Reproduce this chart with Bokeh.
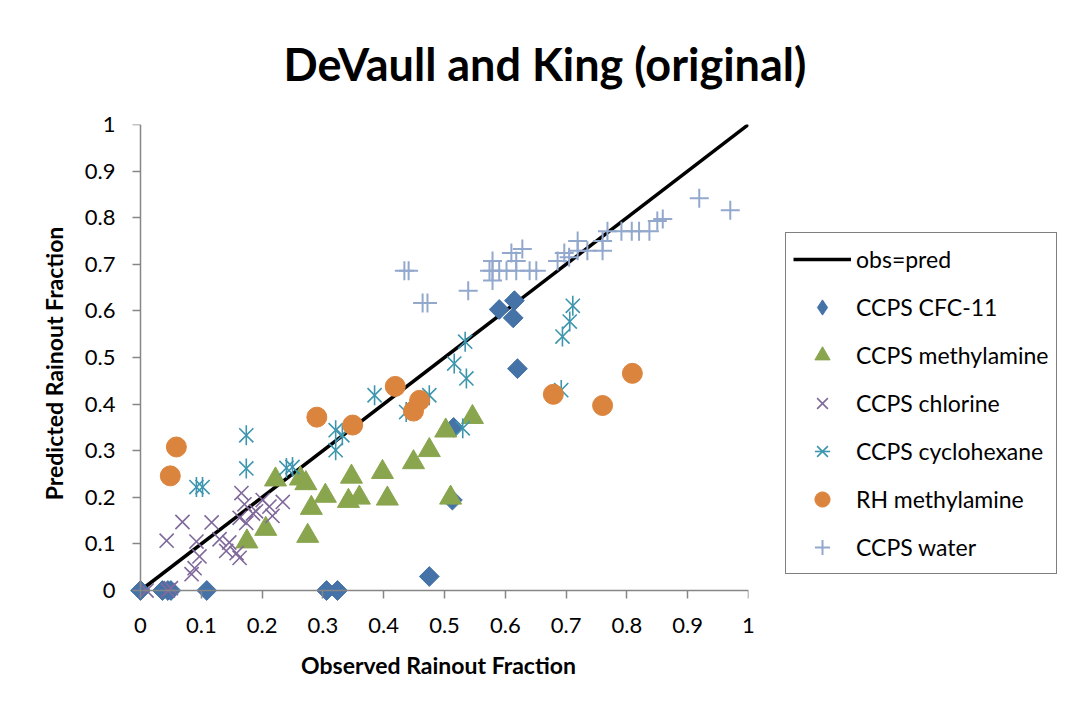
import numpy as np
from bokeh.plotting import figure
from bokeh.models import Range1d, Legend, LegendItem, FixedTicker, LinearAxis
from bokeh.embed import file_html
from bokeh.resources import INLINE

# ---------------- data ----------------
title_text = "DeVaull and King (original)"
x_label = "Observed Rainout Fraction"
y_label = "Predicted Rainout Fraction"

tick_vals = [0, 0.1, 0.2, 0.3, 0.4, 0.5, 0.6, 0.7, 0.8, 0.9, 1]
tick_labels = ["0", "0.1", "0.2", "0.3", "0.4", "0.5", "0.6", "0.7", "0.8", "0.9", "1"]

diag_x = [0, 1]
diag_y = [0, 1]

cfc_x = [0.0, 0.036, 0.045, 0.05, 0.109, 0.306, 0.324, 0.475, 0.513, 0.515, 0.59, 0.613, 0.615, 0.62]
cfc_y = [0.0, 0.0, 0.0, 0.0, 0.0, 0.0, 0.0, 0.03, 0.194, 0.35, 0.603, 0.585, 0.622, 0.476]

mea_x = [0.175, 0.206, 0.222, 0.263, 0.272, 0.275, 0.281, 0.304, 0.342, 0.347, 0.36, 0.398, 0.406, 0.449, 0.475, 0.502, 0.51, 0.546]
mea_y = [0.105, 0.132, 0.238, 0.24, 0.23, 0.117, 0.177, 0.203, 0.192, 0.244, 0.199, 0.254, 0.197, 0.275, 0.301, 0.343, 0.199, 0.372]

cl_x = [0.01, 0.045, 0.05, 0.043, 0.069, 0.117, 0.092, 0.097, 0.084, 0.089, 0.166, 0.171, 0.163, 0.174, 0.201,
        0.212, 0.234, 0.217, 0.146, 0.141, 0.163, 0.158, 0.13, 0.185, 0.19]
cl_y = [0.0, 0.0, 0.005, 0.107, 0.147, 0.146, 0.105, 0.073, 0.035, 0.048, 0.209, 0.185, 0.156, 0.145, 0.194,
        0.18, 0.19, 0.16, 0.103, 0.085, 0.07, 0.08, 0.11, 0.165, 0.17]

cyc_x = [0.092, 0.102, 0.174, 0.174, 0.24, 0.25, 0.321, 0.332, 0.321, 0.385, 0.437, 0.475, 0.53, 0.516, 0.536,
         0.534, 0.692, 0.694, 0.706, 0.711]
cyc_y = [0.222, 0.222, 0.333, 0.262, 0.263, 0.265, 0.344, 0.333, 0.301, 0.419, 0.383, 0.419, 0.348, 0.487, 0.455,
         0.534, 0.43, 0.545, 0.577, 0.611]

rh_x = [0.049, 0.059, 0.29, 0.349, 0.419, 0.449, 0.459, 0.679, 0.76, 0.809]
rh_y = [0.246, 0.308, 0.372, 0.355, 0.438, 0.385, 0.408, 0.421, 0.397, 0.466]

w_x = [0.434, 0.441, 0.464, 0.472, 0.539, 0.574, 0.579, 0.579, 0.579, 0.59, 0.602, 0.61, 0.618, 0.618, 0.628,
       0.64, 0.651, 0.686, 0.697, 0.705, 0.719, 0.719, 0.735, 0.76, 0.76, 0.768, 0.791, 0.808, 0.82, 0.837,
       0.85, 0.859, 0.919, 0.97]
w_y = [0.686, 0.686, 0.617, 0.617, 0.643, 0.686, 0.707, 0.665, 0.686, 0.686, 0.686, 0.724, 0.707, 0.686, 0.733,
       0.686, 0.686, 0.707, 0.724, 0.715, 0.75, 0.729, 0.729, 0.729, 0.75, 0.771, 0.771, 0.771, 0.771, 0.771,
       0.793, 0.797, 0.842, 0.816]

series_names = ["obs=pred", "CCPS CFC-11", "CCPS methylamine", "CCPS chlorine",
                "CCPS cyclohexane", "RH methylamine", "CCPS water"]

# ---------------- figure ----------------
FONT = "Lato"
AX = "#868686"
C_CFC, C_MEA, C_CL, C_CYC, C_RH, C_W = "#4572A7", "#89A54E", "#80699B", "#3D96AE", "#DB843D", "#92A8CD"

p = figure(frame_width=620, frame_height=478,
           min_border_left=128, min_border_right=311, min_border_top=122, min_border_bottom=93,
           x_range=Range1d(-12 / 608, 1.0), y_range=Range1d(-12 / 466, 1.0),
           output_backend="svg", toolbar_location=None)
p.outline_line_color = None
p.grid.visible = False

p.title.text = title_text
p.title.text_font = FONT
p.title.text_font_size = "45px"
p.title.text_font_style = "bold"
p.title.text_color = "black"
p.title.align = "left"
p.title.offset = 155
p.title.standoff = 68

# label-only axes at the frame edges
for ax in (p.xaxis[0], p.yaxis[0]):
    ax.ticker = FixedTicker(ticks=tick_vals)
    ax.major_label_overrides = dict(zip(tick_vals, tick_labels))
    ax.axis_line_color = None
    ax.major_tick_line_color = None
    ax.major_tick_in = 0
    ax.major_tick_out = 0
    ax.minor_tick_line_color = None
    ax.major_label_text_font = FONT
    ax.major_label_text_font_size = "22px"
    ax.major_label_text_color = "black"
    ax.axis_label_text_font = FONT
    ax.axis_label_text_font_size = "23px"
    ax.axis_label_text_font_style = "bold"
    ax.axis_label_text_color = "black"

p.xaxis.axis_label = x_label
p.yaxis.axis_label = y_label
p.xaxis.major_label_standoff = 15
p.yaxis.major_label_standoff = 13
p.xaxis.axis_label_standoff = 15
p.yaxis.axis_label_standoff = 14

# line-and-tick axes through the origin
for side in ("below", "left"):
    a = LinearAxis(fixed_location=0, bounds=(0, 1), ticker=FixedTicker(ticks=tick_vals),
                   axis_line_color=AX, axis_line_width=1.5,
                   major_tick_line_color=AX, major_tick_line_width=1.5,
                   major_tick_in=0, major_tick_out=8, minor_tick_line_color=None,
                   major_label_text_font_size="0px", major_label_text_color=None)
    p.add_layout(a, side)

r_line = p.line(diag_x, diag_y, line_color="black", line_width=3.5)
# narrow diamond underneath (fully covered by the rotated squares); used as legend key
r_cfc_key = p.scatter(cfc_x, cfc_y, marker="diamond", size=18, fill_color=C_CFC, line_color=C_CFC)
r_cfc = p.scatter(cfc_x, cfc_y, marker="square", angle=np.pi / 4, size=14,
                  fill_color=C_CFC, line_color=C_CFC)
r_mea = p.scatter(mea_x, mea_y, marker="triangle", size=22, fill_color=C_MEA, line_color=C_MEA)
r_cl = p.scatter(cl_x, cl_y, marker="x", size=20, line_color=C_CL, line_width=1.6)
r_cyc1 = p.scatter(cyc_x, cyc_y, marker="x", size=20, line_color=C_CYC, line_width=1.6)
r_cyc2 = p.scatter(cyc_x, cyc_y, marker="dash", angle=np.pi / 2, size=20, line_color=C_CYC, line_width=1.6)
r_rh = p.scatter(rh_x, rh_y, marker="circle", size=20, fill_color=C_RH, line_color=C_RH)
r_w = p.scatter(w_x, w_y, marker="cross", size=19, line_color=C_W, line_width=2)

items = [
    LegendItem(label=series_names[0], renderers=[r_line]),
    LegendItem(label=series_names[1], renderers=[r_cfc_key]),
    LegendItem(label=series_names[2], renderers=[r_mea]),
    LegendItem(label=series_names[3], renderers=[r_cl]),
    LegendItem(label=series_names[4], renderers=[r_cyc1, r_cyc2]),
    LegendItem(label=series_names[5], renderers=[r_rh]),
    LegendItem(label=series_names[6], renderers=[r_w]),
]
legend = Legend(items=items, location=(37, 28),
                glyph_width=58, glyph_height=38, label_height=38, spacing=10,
                label_standoff=5, padding=7, margin=0,
                label_text_font=FONT, label_text_font_size="23px", label_text_color="black",
                border_line_color="black", border_line_width=1.5,
                background_fill_color="white", background_fill_alpha=1)
p.add_layout(legend, "right")

open("out.html", "w").write(file_html(p, INLINE))
